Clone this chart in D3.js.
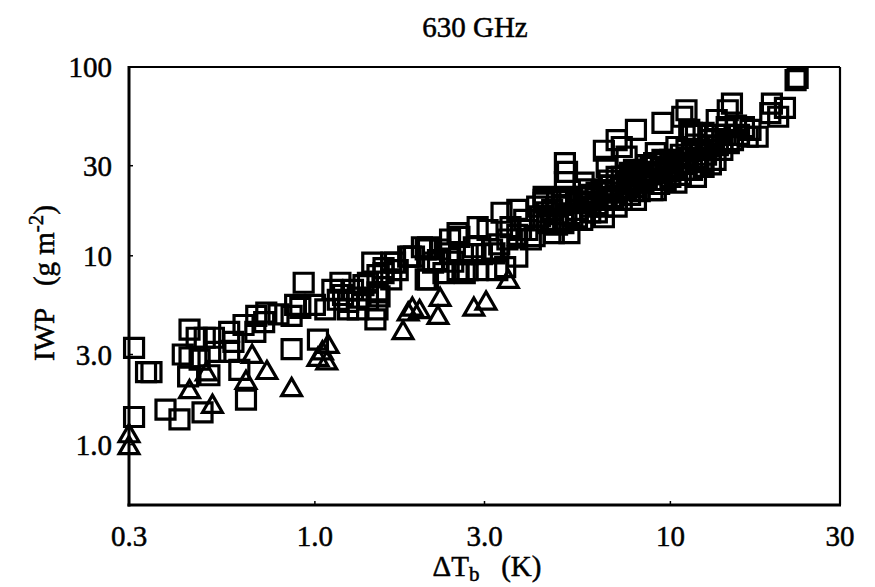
<!DOCTYPE html>
<html>
<head>
<meta charset="utf-8">
<script src="https://cdn.jsdelivr.net/npm/d3@7"></script>
<style>
  body { margin: 0; background: #fff; }
  text { font-family: "Liberation Serif", "DejaVu Serif", serif; fill: #000; stroke: #000; stroke-width: 0.5px; }
</style>
</head>
<body>
<script>
'use strict';

// square markers: [deltaTb (K), IWP (g m-2)]
const squarePoints = [
  [0.31, 3.25], [0.335, 2.42], [0.347, 2.42], [0.31, 1.40], [0.38, 1.53],
  [0.416, 1.36], [0.483, 1.48], [0.444, 4.06], [0.465, 3.68], [0.49, 3.68],
  [0.52, 3.68], [0.425, 3.0], [0.444, 2.9], [0.474, 2.82], [0.44, 2.3],
  [0.505, 2.33], [0.574, 3.95], [0.59, 3.5], [0.574, 3.1], [0.613, 2.49],
  [0.64, 1.73], [0.684, 4.8], [0.73, 5.0], [0.68, 3.95], [0.72, 4.45],
  [0.525, 3.1], [0.63, 4.3],
  [0.93, 7.2], [0.88, 5.5], [0.86, 4.8], [0.79, 4.9], [0.91, 5.3],
  [1.0, 5.5], [1.07, 5.2], [1.02, 3.6], [0.86, 3.2], [1.18, 7.2],
  [1.24, 5.2], [1.32, 5.2], [1.45, 9.2], [1.41, 7.2], [1.50, 6.4],
  [1.48, 4.6], [1.68, 9.2], [1.64, 7.5], [1.86, 9.9], [2.0, 11.1],
  [2.05, 7.5], [1.12, 6.6], [1.2, 6.2], [1.28, 6.6], [1.32, 6.0],
  [1.37, 7.0], [1.16, 5.85], [1.24, 5.7], [1.41, 5.85], [1.71, 8.4],
  [1.56, 8.6], [1.50, 7.9],
  [1.83, 9.9], [2.05, 10.8], [2.15, 9.2], [2.08, 7.5], [2.25, 10.8],
  [2.4, 10.3], [2.55, 12.6], [2.52, 8.4], [2.69, 8.4], [2.8, 11.1],
  [2.87, 8.4], [3.06, 13.7], [3.26, 8.4], [3.2, 10.3], [3.35, 16.9],
  [3.48, 12.2], [3.71, 17.5], [3.71, 9.9], [3.8, 13.7], [4.05, 12.2],
  [4.4, 19.1], [4.5, 14.9], [4.7, 13.2], [5.05, 31], [5.05, 24.6],
  [5.1, 20.5], [3.55, 14.2], [3.88, 15.5], [4.22, 18.2], [4.4, 20.5],
  [4.8, 19.8], [5.0, 15.5], [5.46, 16.0], [5.7, 24.4], [5.95, 18.2],
  [6.5, 22.3], [7.06, 26.2], [7.3, 37.7], [7.7, 27.5], [8.4, 24.4],
  [9.1, 35], [9.5, 25.2], [6.5, 36], [2.4, 12.2], [2.08, 11.1],
  [1.9, 9.9], [1.64, 9.2], [1.56, 8.1], [1.52, 6.1], [1.50, 5.2],
  [2.3, 8.1], [2.64, 8.1], [3.43, 8.7], [2.87, 14.2], [2.52, 13.2],
  [5.12, 27.8], [6.62, 29.6], [7.06, 41], [8.0, 46.4], [7.53, 33.5],
  [7.3, 26.2], [8.0, 24.4], [9.5, 50.6], [10.8, 54.5], [11.5, 44.8],
  [10.4, 37.7], [11.8, 32.2], [10.0, 26.2],
  [4.4, 19.8], [4.8, 18.2], [5.2, 19.8], [5.7, 20.5], [6.2, 21.6],
  [6.5, 18.2], [7.06, 21.6], [7.3, 19.8], [8.0, 23.2], [8.4, 26.2],
  [8.8, 29.6], [9.1, 27.5], [9.5, 32.2], [10.4, 29.6], [11.1, 30.7],
  [12.4, 29.6], [4.15, 12.7], [4.6, 15.5], [5.0, 14.9], [5.46, 17.5],
  [5.95, 17.0], [6.5, 16.0], [7.06, 18.2], [5.2, 13.2], [7.7, 21.0],
  [8.9, 22.3], [9.7, 25.2], [10.7, 26.8], [11.5, 28.5], [6.2, 18.8],
  [5.65, 15.5], [8.0, 19.8], [9.1, 22.3], [10.4, 24.4], [11.8, 26.2],
  [13.0, 30.5],
  [4.3, 16.2], [4.65, 17.5], [4.95, 18.6], [5.3, 16.2], [5.82, 19.2],
  [6.15, 20.2], [6.4, 22.3], [6.8, 23.6], [7.25, 22.8], [7.8, 25.2],
  [8.3, 27.8], [8.56, 30.2], [9.4, 29.2], [10.0, 32.2], [10.7, 34.3],
  [11.5, 36.4], [12.2, 36.4], [13.0, 36.4], [14.0, 41], [14.3, 43.7],
  [15.3, 49], [13.4, 43.7], [11.8, 43.7], [6.62, 19.8], [7.53, 22.3],
  [8.56, 25.2], [9.73, 28.5], [11.1, 28.5], [6.21, 17.0], [4.8, 14.6],
  [3.96, 13.7], [3.71, 12.9], [3.3, 11.5], [3.15, 10.8], [2.95, 10.2],
  [2.69, 10.2], [2.22, 9.5], [2.45, 9.3],
  [5.5, 19.0], [6.0, 21.0], [6.9, 20.5], [7.6, 24.0], [8.2, 22.0],
  [8.7, 27.0], [9.3, 24.0], [9.9, 28.0], [10.5, 31.0], [11.2, 33.0],
  [12.0, 33.0], [12.8, 38.0], [13.6, 38.5], [14.6, 39.5], [5.9, 22.5],
  [6.7, 25.0], [9.0, 31.0], [4.5, 17.0], [5.1, 16.8], [7.9, 28.5],
  [22.8, 87.5], [22.5, 85.3], [14.9, 64], [14.5, 59], [19.3, 64],
  [21.0, 60.7], [19.1, 57], [20.1, 54.5], [16.8, 46.4], [16.1, 48],
  [14.4, 48], [13.5, 52.4], [11.1, 59], [17.6, 42.7], [16.5, 42.7],
  [12.4, 44.8], [11.3, 46.4], [11.8, 38.8], [13.0, 41], [14.0, 36.4],
  [15.0, 41], [12.6, 34.3], [11.1, 36.4], [13.4, 32.2], [15.6, 43.7],
  [12.3, 31.3]
];

// triangle markers: [deltaTb (K), IWP (g m-2)]
const trianglePoints = [
  [0.30, 1.11], [0.30, 0.96], [0.515, 1.59], [0.495, 2.36], [0.444, 1.90],
  [0.666, 2.92], [0.733, 2.40], [0.64, 2.13], [0.86, 1.95], [1.02, 2.82],
  [1.08, 2.7], [1.09, 3.3], [1.05, 3.05], [1.77, 3.9], [1.83, 4.9],
  [1.88, 5.2], [1.97, 5.05], [2.25, 5.85], [2.22, 4.7], [2.8, 5.2],
  [3.03, 5.6], [3.5, 7.3]
];

const xTicks = [0.3, 1, 3, 10, 30];
const xTickLabels = ["0.3", "1.0", "3.0", "10", "30"];
const yTicks = [1, 3, 10, 30, 100];
const yTickLabels = ["1.0", "3.0", "10", "30", "100"];

const width = 875, height = 587;
const plot = { left: 129, right: 840, top: 67, bottom: 505 };

const svg = d3.select('body')
  .append('svg')
  .attr('width', width)
  .attr('height', height);

const x = d3.scaleLog()
  .domain([0.3, 30])
  .range([plot.left, plot.right]);

const y = d3.scaleLog()
  .domain([Math.pow(10, -0.32), 100])
  .range([plot.bottom, plot.top]);

// frame: thinner top/right, heavier left/bottom
svg.append('line')
  .attr('x1', plot.left).attr('x2', plot.right)
  .attr('y1', plot.top).attr('y2', plot.top)
  .attr('stroke', '#000').attr('stroke-width', 2.2);
svg.append('line')
  .attr('x1', plot.right).attr('x2', plot.right)
  .attr('y1', plot.top).attr('y2', plot.bottom)
  .attr('stroke', '#000').attr('stroke-width', 2.2);
svg.append('line')
  .attr('x1', plot.left).attr('x2', plot.left)
  .attr('y1', plot.top - 1).attr('y2', plot.bottom + 1.5)
  .attr('stroke', '#000').attr('stroke-width', 3);
svg.append('line')
  .attr('x1', plot.left - 1.5).attr('x2', plot.right + 1)
  .attr('y1', plot.bottom).attr('y2', plot.bottom)
  .attr('stroke', '#000').attr('stroke-width', 3);

// small inward ticks
svg.selectAll('.xtick')
  .data(xTicks.slice(1, -1)).enter()
  .append('line')
    .attr('x1', d => x(d)).attr('x2', d => x(d))
    .attr('y1', plot.bottom).attr('y2', plot.bottom - 4)
    .attr('stroke', '#000').attr('stroke-width', 1.5);
svg.selectAll('.ytick')
  .data(yTicks.slice(0, -1)).enter()
  .append('line')
    .attr('x1', plot.left).attr('x2', plot.left + 4)
    .attr('y1', d => y(d)).attr('y2', d => y(d))
    .attr('stroke', '#000').attr('stroke-width', 1.5);

// tick labels
svg.selectAll('.xlabel')
  .data(xTicks).enter()
  .append('text')
    .attr('x', d => x(d))
    .attr('y', 546)
    .attr('text-anchor', 'middle')
    .style('font-size', '29px')
    .text((d, i) => xTickLabels[i]);

svg.selectAll('.ylabel')
  .data(yTicks).enter()
  .append('text')
    .attr('x', 112)
    .attr('y', d => y(d) + 10)
    .attr('text-anchor', 'end')
    .style('font-size', '29px')
    .text((d, i) => yTickLabels[i]);

// markers
const squareSym = d3.symbol().type(d3.symbolSquare).size(19 * 19);
const triSym = d3.symbol().type(d3.symbolTriangle).size(170);

svg.append('g').selectAll('path')
  .data(squarePoints).enter()
  .append('path')
    .attr('transform', d => 'translate(' + x(d[0]) + ',' + y(d[1]) + ')')
    .attr('d', squareSym)
    .attr('fill', 'none')
    .attr('stroke', '#000')
    .attr('stroke-width', 3.2);

svg.append('g').selectAll('path')
  .data(trianglePoints).enter()
  .append('path')
    .attr('transform', d => 'translate(' + x(d[0]) + ',' + y(d[1]) + ')')
    .attr('d', triSym)
    .attr('fill', 'none')
    .attr('stroke', '#000')
    .attr('stroke-width', 3.2);

// title and axis titles
svg.append('text')
  .attr('x', 475)
  .attr('y', 37)
  .attr('text-anchor', 'middle')
  .style('font-size', '29px')
  .text('630 GHz');

let xt = svg.append('text')
  .attr('x', 487)
  .attr('y', 576)
  .attr('text-anchor', 'middle')
  .style('font-size', '29px');
xt.append('tspan').text('\u0394T');
xt.append('tspan').attr('dy', 5).style('font-size', '21px').text('b');
xt.append('tspan').attr('dy', -5).text('\u00a0\u00a0\u00a0(K)');

let yt = svg.append('text')
  .attr('transform', 'translate(54, 283)rotate(-90)')
  .attr('text-anchor', 'middle')
  .style('font-size', '29px');
yt.append('tspan').text('IWP\u00a0\u00a0\u00a0(g m');
yt.append('tspan').attr('dy', -11).style('font-size', '21px').text('-2');
yt.append('tspan').attr('dy', 11).text(')');
</script>
</body>
</html>
